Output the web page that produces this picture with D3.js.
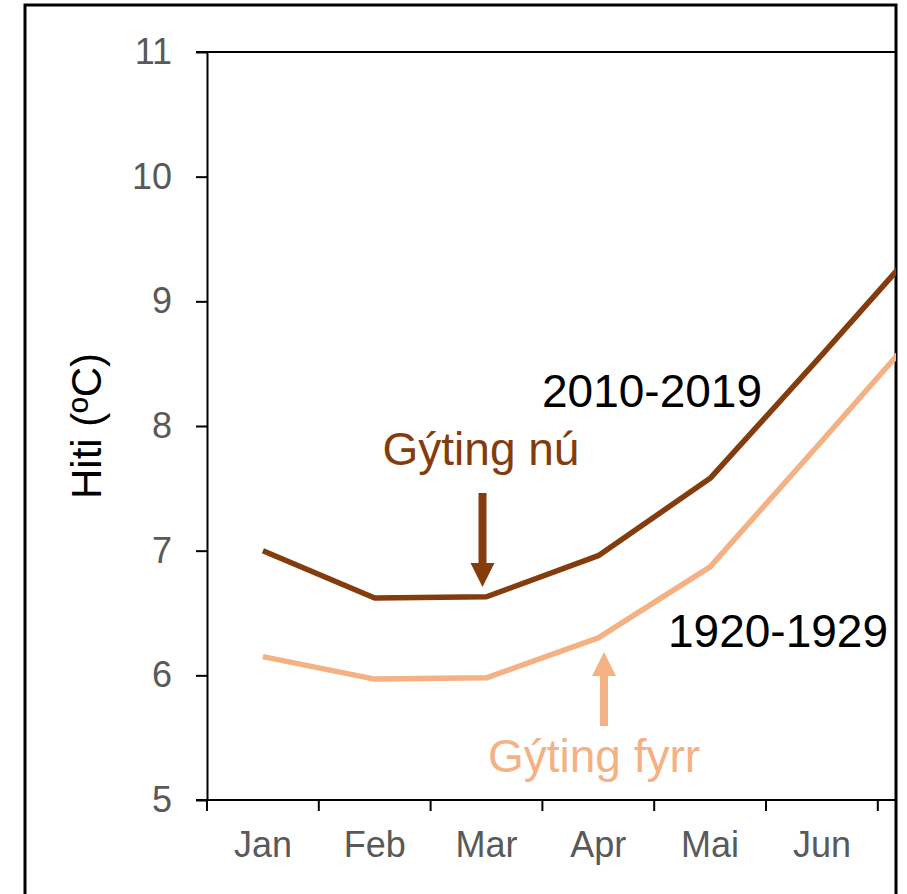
<!DOCTYPE html>
<html>
<head>
<meta charset="utf-8">
<script src="https://cdn.jsdelivr.net/npm/d3@7"></script>
<style>
  html, body { margin: 0; padding: 0; background: #fff; }
  svg { display: block; }
</style>
</head>
<body>
<svg id="chart" width="907" height="894"></svg>
<script>
// Monthly means, the chart is cropped on the right so Jul is only partly visible
const months = ['Jan', 'Feb', 'Mar', 'Apr', 'Mai', 'Jun', 'Jul'];
const recent = [7.00, 6.62, 6.63, 6.96, 7.58, 8.57, 9.58];   // 2010-2019
const early  = [6.15, 5.97, 5.98, 6.30, 6.87, 7.88, 8.90];   // 1920-1929
const yTicks = [5, 6, 7, 8, 9, 10, 11];

const BROWN = '#843c0c';
const PEACH = '#f4b183';
const GREY  = '#595959';
const FONT  = 'Arial, "Liberation Sans", sans-serif';

const svg = d3.select('#chart');
const plotLeft = 207, plotTop = 52, plotBottom = 800, rightEdge = 896;
const band = 111.8;

const x = d3.scaleBand().domain(months).range([plotLeft, plotLeft + band * months.length]);
const y = d3.scaleLinear().domain([5, 11]).range([plotBottom, plotTop]);

// outer frame (cropped picture border)
svg.append('path')
    .attr('d', 'M25,894 V5 H' + rightEdge + ' V894')
    .attr('fill', 'none').attr('stroke', '#000').attr('stroke-width', 3);

svg.append('clipPath').attr('id', 'plotClip')
  .append('rect').attr('x', plotLeft).attr('y', plotTop - 5)
    .attr('width', rightEdge - plotLeft).attr('height', plotBottom - plotTop + 10);

// top border line
svg.append('line')
    .attr('x1', plotLeft - 11).attr('x2', rightEdge)
    .attr('y1', y(11)).attr('y2', y(11))
    .attr('stroke', '#000').attr('stroke-width', 2);

// y axis
const yAxis = svg.append('g')
    .attr('transform', 'translate(' + plotLeft + ',0)')
    .call(d3.axisLeft(y).tickValues(yTicks).tickFormat(d3.format('d'))
        .tickSize(11).tickPadding(24).tickSizeOuter(0));
yAxis.select('.domain').attr('stroke', '#000').attr('stroke-width', 2);
yAxis.selectAll('.tick line').attr('stroke', '#000').attr('stroke-width', 2);
yAxis.selectAll('.tick text')
    .attr('fill', GREY).attr('font-family', FONT).attr('font-size', 36);

// x axis: ticks on category boundaries
const xg = svg.append('g').attr('transform', 'translate(0,' + plotBottom + ')');
xg.append('line')
    .attr('x1', plotLeft - 11).attr('x2', rightEdge)
    .attr('stroke', '#000').attr('stroke-width', 2);
const boundaries = months.map(function(m) { return x(m); }).filter(function(v) { return v < rightEdge; });
xg.selectAll('line.tk').data(boundaries).enter().append('line')
    .attr('class', 'tk')
    .attr('x1', function(d) { return d; }).attr('x2', function(d) { return d; })
    .attr('y1', 0).attr('y2', 11)
    .attr('stroke', '#000').attr('stroke-width', 2);
xg.selectAll('text').data(months.filter(function(m) { return x(m) + x.bandwidth() / 2 < rightEdge; }))
  .enter().append('text')
    .attr('x', function(d) { return x(d) + x.bandwidth() / 2; })
    .attr('y', 57)
    .attr('text-anchor', 'middle')
    .attr('fill', GREY).attr('font-family', FONT).attr('font-size', 36)
    .text(function(d) { return d; });

// y label
svg.append('text')
    .attr('transform', 'translate(101,426) rotate(-90)')
    .attr('text-anchor', 'middle')
    .attr('fill', '#000').attr('font-family', FONT).attr('font-size', 42)
    .text('Hiti (ºC)');

// lines
const line = d3.line()
    .x(function(d, i) { return x(months[i]) + x.bandwidth() / 2; })
    .y(function(d) { return y(d); });

const plot = svg.append('g').attr('clip-path', 'url(#plotClip)');
plot.append('path').datum(early)
    .attr('d', line).attr('fill', 'none')
    .attr('stroke', PEACH).attr('stroke-width', 5.5).attr('stroke-linejoin', 'round');
plot.append('path').datum(recent)
    .attr('d', line).attr('fill', 'none')
    .attr('stroke', BROWN).attr('stroke-width', 5.5).attr('stroke-linejoin', 'round');

// annotations
function label(txt, cx, cy, col) {
    svg.append('text')
        .attr('x', cx).attr('y', cy)
        .attr('text-anchor', 'middle')
        .attr('fill', col).attr('font-family', FONT).attr('font-size', 46)
        .text(txt);
}
label('2010-2019', 652, 407, '#000');
label('1920-1929', 778, 647, '#000');
label('Gýting nú', 481, 465, BROWN);
label('Gýting fyrr', 594, 772, PEACH);

function arrow(cx, y0, y1, col) {
    // y0 = tail, y1 = tip
    const dir = y1 > y0 ? 1 : -1;
    const headLen = 24, headW = 12;
    svg.append('line')
        .attr('x1', cx).attr('x2', cx)
        .attr('y1', y0).attr('y2', y1 - dir * headLen)
        .attr('stroke', col).attr('stroke-width', 8);
    svg.append('path')
        .attr('d', 'M' + (cx - headW) + ',' + (y1 - dir * headLen) +
                   ' L' + (cx + headW) + ',' + (y1 - dir * headLen) +
                   ' L' + cx + ',' + y1 + 'Z')
        .attr('fill', col);
}
arrow(482.5, 493, 587, BROWN);
arrow(604, 726, 652, PEACH);
</script>
</body>
</html>
